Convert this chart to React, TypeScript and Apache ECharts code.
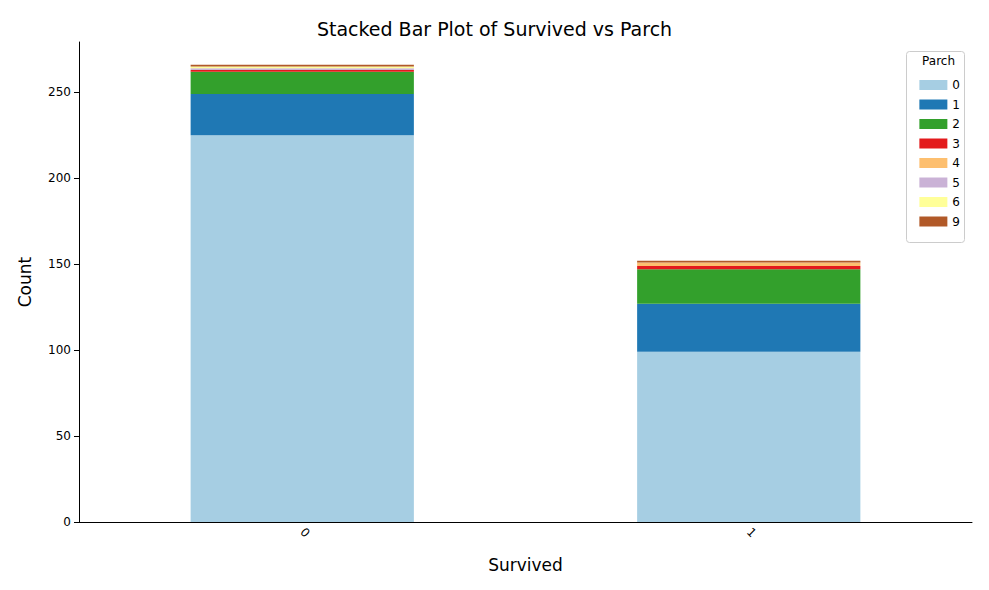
import { useEffect, useRef } from "react";
import * as echarts from "echarts";

const categories = ["0", "1"];
const parchLevels = ["0", "1", "2", "3", "4", "5", "6", "9"];
const colors = ["#a6cee3", "#1f78b4", "#33a02c", "#e31a1c", "#fdbf6f", "#cab2d6", "#ffff99", "#b15928"];
// counts per parch level: [survived 0, survived 1]
const counts = [
  [225, 99],
  [24, 28],
  [13, 20],
  [1, 2],
  [0, 2],
  [1, 0],
  [1, 0],
  [1, 1],
];

export default function App() {
  const ref = useRef<HTMLDivElement>(null);

  useEffect(() => {
    if (!ref.current) return;
    const chart = echarts.init(ref.current, null, { renderer: "svg" });
    const font = "DejaVu Sans";
    chart.setOption({
      animation: false,
      textStyle: { fontFamily: font },
      title: {
        text: "Stacked Bar Plot of Survived vs Parch",
        left: "center",
        top: 6,
        textStyle: { fontSize: 19, fontWeight: "normal", color: "#000", fontFamily: font },
      },
      grid: { left: 71, right: 9, top: 34, bottom: 60 },
      xAxis: {
        type: "category",
        data: categories,
        name: "Survived",
        nameLocation: "middle",
        nameGap: 34,
        nameTextStyle: { fontSize: 17, color: "#000" },
        axisLine: { lineStyle: { color: "#000" } },
        axisTick: { alignWithLabel: true, lineStyle: { color: "#000" } },
        axisLabel: { rotate: -45, color: "#000", fontSize: 12 },
      },
      yAxis: {
        type: "value",
        min: 0,
        max: 279.3,
        interval: 50,
        name: "Count",
        nameLocation: "middle",
        nameGap: 46,
        nameTextStyle: { fontSize: 17, color: "#000" },
        axisLine: { show: true, lineStyle: { color: "#000" } },
        axisTick: { show: true, lineStyle: { color: "#000" } },
        axisLabel: { color: "#000", fontSize: 12, showMaxLabel: false },
        splitLine: { show: false },
      },
      graphic: [
        {
          type: "rect",
          right: 16,
          top: 43,
          shape: { width: 58, height: 191, r: 3 },
          style: { fill: "#fff", stroke: "#ccc", lineWidth: 1 },
          z: 10,
        },
        {
          type: "text",
          right: 26,
          top: 47,
          style: { text: "Parch", fontSize: 12, fill: "#000", fontFamily: font },
          z: 11,
        },
      ],
      legend: {
        orient: "vertical",
        right: 16,
        top: 66,
        itemWidth: 28,
        itemHeight: 10,
        itemGap: 7.5,
        icon: "rect",
        textStyle: { fontSize: 12, color: "#000", width: 14 },
        data: parchLevels,
        z: 12,
      },
      series: parchLevels.map((p, i) => ({
        name: p,
        type: "bar",
        stack: "total",
        barWidth: "50%",
        data: counts[i],
        itemStyle: { color: colors[i] },
      })),
    });
    return () => chart.dispose();
  }, []);

  return <div ref={ref} style={{ width: 973, height: 574 }} />;
}
